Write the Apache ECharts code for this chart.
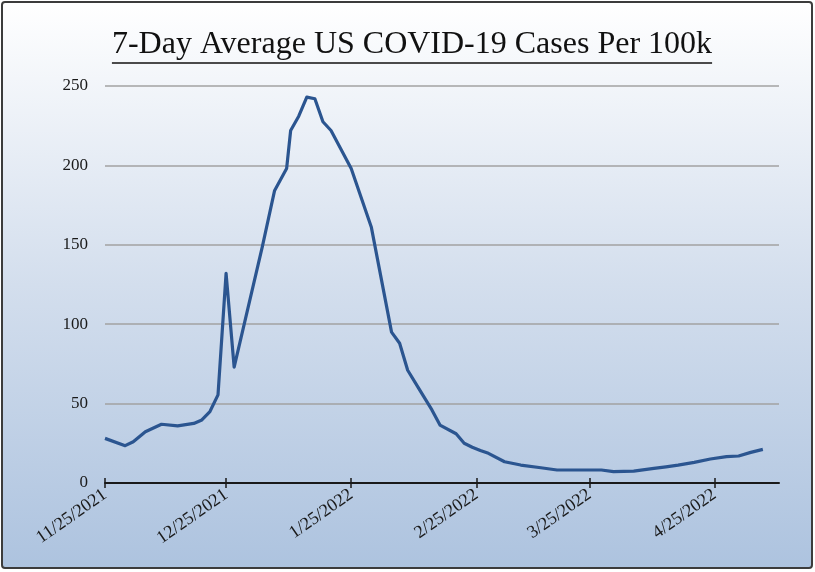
<!DOCTYPE html>
<html>
<head>
<meta charset="utf-8">
<script src="https://cdn.jsdelivr.net/npm/echarts@6/dist/echarts.min.js"></script>
<style>
  html, body { margin: 0; padding: 0; background: #ffffff; }
  #chart { width: 815px; height: 572px; }
</style>
</head>
<body>
<div id="chart"></div>
<script>
// 7-day average of new US COVID-19 cases per 100k residents
const titleText = '7-Day Average US COVID-19 Cases Per 100k';

const dates = [
  '2021-11-25', '2021-11-30', '2021-12-02', '2021-12-05', '2021-12-09', '2021-12-13',
  '2021-12-17', '2021-12-19', '2021-12-21', '2021-12-23', '2021-12-25', '2021-12-27',
  '2022-01-03', '2022-01-06', '2022-01-09', '2022-01-10', '2022-01-12', '2022-01-14',
  '2022-01-16', '2022-01-18', '2022-01-20', '2022-01-25', '2022-01-30', '2022-02-04',
  '2022-02-06', '2022-02-08', '2022-02-11', '2022-02-14', '2022-02-16', '2022-02-20',
  '2022-02-22', '2022-02-24', '2022-02-26', '2022-02-28', '2022-03-04', '2022-03-08',
  '2022-03-13', '2022-03-17', '2022-03-22', '2022-03-28', '2022-03-31', '2022-04-05',
  '2022-04-10', '2022-04-13', '2022-04-16', '2022-04-20', '2022-04-24', '2022-04-28',
  '2022-05-01', '2022-05-04', '2022-05-07'
];

const casesPer100k = [
  28.1, 23.5, 26.0, 32.3, 37.0, 36.0,
  37.5, 39.7, 45.0, 55.5, 132.0, 73.0,
  149.0, 184.0, 198.0, 222.0, 231.0, 243.0,
  242.0, 227.5, 222.0, 198.0, 161.0, 95.0,
  88.0, 71.0, 58.5, 46.0, 36.5, 31.0,
  25.0, 22.5, 20.5, 18.7, 13.4, 11.3,
  9.6, 8.2, 8.2, 8.2, 7.2, 7.5,
  9.2, 10.2, 11.3, 13.0, 15.1, 16.6,
  17.0, 19.3, 21.2
];

// Dates that carry a labelled tick on the horizontal axis
const tickDates = ['2021-11-25', '2021-12-25', '2022-01-25', '2022-02-25', '2022-03-25', '2022-04-25'];
const axisStart = '2021-11-25';
const axisEnd = '2022-05-11';

const yTicks = [0, 50, 100, 150, 200, 250];

function toTime(s) {
  const [y, m, d] = s.split('-').map(Number);
  return new Date(y, m - 1, d).getTime();
}
function fmtDate(v) {
  const d = new Date(v);
  return (d.getMonth() + 1) + '/' + d.getDate() + '/' + d.getFullYear();
}

const serif = '"Liberation Serif", "Times New Roman", serif';
const seriesData = dates.map((d, i) => [toTime(d), casesPer100k[i]]);
const tickTimes = tickDates.map(toTime);

// underline width for the title
const titleSize = 32;
const measure = document.createElement('canvas').getContext('2d');
measure.font = titleSize + 'px ' + serif;
const titleWidth = measure.measureText(titleText).width;
const titleCx = 412;
const titleTop = 29;

const chart = echarts.init(document.getElementById('chart'), null, { renderer: 'canvas' });

// date axis drawn as a numeric axis over millisecond timestamps
const baseX = {
  type: 'value',
  min: toTime(axisStart),
  max: toTime(axisEnd),
  splitLine: { show: false }
};

chart.setOption({
  animation: false,
  graphic: [
    {
      type: 'rect',
      z: -10,
      shape: { x: 2, y: 2, width: 810, height: 566, r: 3 },
      style: {
        fill: new echarts.graphic.LinearGradient(0, 0, 0, 1, [
          { offset: 0, color: '#ffffff' },
          { offset: 0.5, color: '#d3deed' },
          { offset: 1, color: '#adc3df' }
        ]),
        stroke: '#3c3c3c',
        lineWidth: 2
      }
    },
    {
      type: 'text',
      left: titleCx - titleWidth / 2,
      top: titleTop,
      style: {
        text: titleText,
        font: titleSize + 'px ' + serif,
        fill: '#111111'
      }
    },
    {
      type: 'line',
      shape: {
        x1: titleCx - titleWidth / 2, y1: 63,
        x2: titleCx + titleWidth / 2, y2: 63
      },
      style: { stroke: '#111111', lineWidth: 1.5 }
    }
  ],
  grid: { left: 105, right: 36, top: 86, bottom: 89, containLabel: false },
  xAxis: [
    Object.assign({}, baseX, {
      axisLine: { show: true, lineStyle: { color: '#1a1a1a', width: 2 } },
      axisTick: { show: true, length: 5, customValues: tickTimes, lineStyle: { color: '#1a1a1a', width: 1.5 } },
      axisLabel: {
        show: true,
        customValues: tickTimes,
        formatter: fmtDate,
        rotate: 35,
        margin: 10,
        color: '#1a1a1a',
        fontFamily: serif,
        fontSize: 18
      }
    }),
    Object.assign({}, baseX, {
      position: 'bottom',
      axisLine: { show: false },
      axisTick: { show: true, inside: true, length: 5, customValues: tickTimes, lineStyle: { color: '#1a1a1a', width: 1.5 } },
      axisLabel: { show: false }
    })
  ],
  yAxis: {
    type: 'value',
    min: yTicks[0],
    max: yTicks[yTicks.length - 1],
    interval: 50,
    axisLine: { show: false },
    axisTick: { show: false },
    axisLabel: {
      margin: 17,
      color: '#1a1a1a',
      fontFamily: serif,
      fontSize: 17
    },
    splitLine: { show: true, lineStyle: { color: '#a2a2a2', width: 1.6 } }
  },
  series: [
    {
      type: 'line',
      xAxisIndex: 0,
      data: seriesData,
      showSymbol: false,
      smooth: false,
      lineStyle: { color: '#2b5590', width: 3.2, join: 'round' },
      z: 5
    }
  ]
});
</script>
</body>
</html>
